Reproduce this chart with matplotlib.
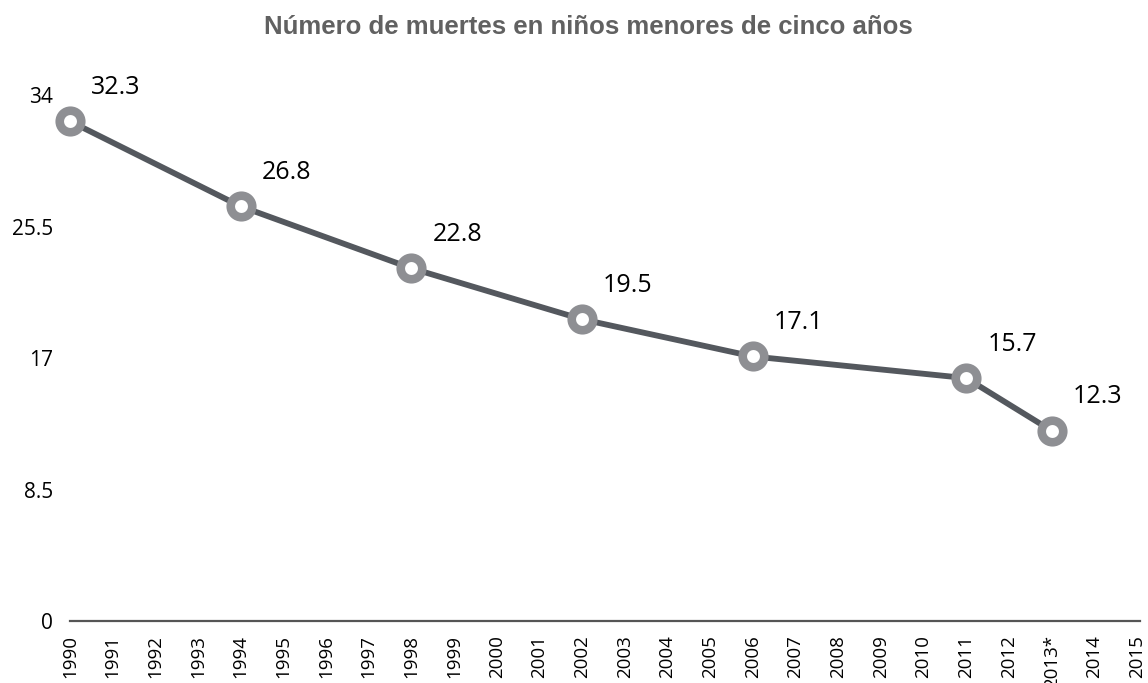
import matplotlib
matplotlib.use('Agg')
import matplotlib.pyplot as plt

# Datos
anios = [1990, 1994, 1998, 2002, 2006, 2011, 2013]
muertes = [32.3, 26.8, 22.8, 19.5, 17.1, 15.7, 12.3]
etiquetas = ['32.3', '26.8', '22.8', '19.5', '17.1', '15.7', '12.3']
anios_ticks = list(range(1990, 2016))
anios_labels = [str(a) if a != 2013 else '2013*' for a in anios_ticks]
y_ticks = [0, 8.5, 17, 25.5, 34]
y_labels = ['0', '8.5', '17', '25.5', '34']

plt.rcParams['font.family'] = ['Open Sans', 'DejaVu Sans']

fig = plt.figure(figsize=(11.48, 6.83), dpi=100)
ax = fig.add_axes([70 / 1148, 62 / 683, 1070 / 1148, 526 / 683])

ax.plot(anios, muertes, color='#54585e', linewidth=4.2, zorder=2, clip_on=False)
ax.plot(anios, muertes, linestyle='none', marker='o', markersize=15.5,
        markerfacecolor='white', markeredgecolor='#8e8f93', markeredgewidth=6.2,
        zorder=3, clip_on=False)

# etiquetas de datos
for x, y, t in zip(anios, muertes, etiquetas):
    ax.annotate(t, (x, y), xytext=(21, 34), textcoords='offset pixels',
                ha='left', va='center', fontsize=18, color='#000000')

ax.set_xlim(1990, 1990 + 1070 / 42.68)
ax.set_ylim(0, 34)

ax.set_xticks(anios_ticks)
ax.set_xticklabels(anios_labels, rotation=90, fontsize=13.5, color='#000000')
ax.set_yticks(y_ticks)
ax.set_yticklabels(y_labels, fontsize=15, color='#000000')
ax.tick_params(axis='both', length=0)
ax.tick_params(axis='x', pad=10)
ax.tick_params(axis='y', pad=12)

for s in ['top', 'right', 'left']:
    ax.spines[s].set_visible(False)
ax.spines['bottom'].set_color('#555555')
ax.spines['bottom'].set_linewidth(1.6)

fig.text(588 / 1148, 1 - 27 / 683, 'Número de muertes en niños menores de cinco años',
         ha='center', va='center', fontsize=18.5, fontweight='bold',
         color='#616161', family='Liberation Sans')

fig.savefig('out.png', dpi=100)
